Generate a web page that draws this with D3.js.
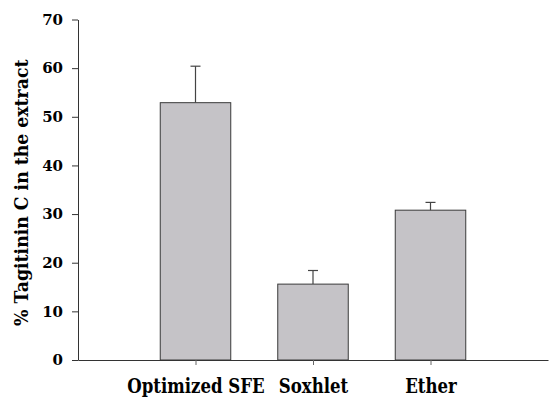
<!DOCTYPE html>
<html>
<head>
<meta charset="utf-8">
<title>Tagitinin C</title>
<script src="https://d3js.org/d3.v7.min.js"></script>
<style>
  body { margin: 0; background: #fff; }
</style>
</head>
<body>
<svg id="chart" width="549" height="398"></svg>
<script>
const categories = ["Optimized SFE", "Soxhlet", "Ether"];
const values = [52.9, 15.6, 30.8];
const errors = [7.5, 2.8, 1.6];
const yTicks = [0, 10, 20, 30, 40, 50, 60, 70];

// only serif face available here is DejaVu Serif, it runs wider than Times so squeeze it a bit
const serif = "DejaVu Serif";

const svg = d3.select("#chart");
const plotLeft = 78, plotRight = 548, plotTop = 19.5, plotBottom = 360;

const x = d3.scalePoint().domain(categories).range([plotLeft, plotRight]).padding(1);
const y = d3.scaleLinear().domain([0, 70]).range([plotBottom, plotTop]);
const barW = x.step() * 0.6;

const data = categories.map((c, i) => ({ name: c, value: values[i], err: errors[i] }));

// bars
svg.selectAll("rect.bar")
  .data(data)
  .enter().append("rect")
  .attr("class", "bar")
  .attr("x", d => x(d.name) - barW / 2)
  .attr("y", d => y(d.value))
  .attr("width", barW)
  .attr("height", d => y(0) - y(d.value))
  .attr("fill", "#c5c3c7")
  .attr("stroke", "#3a3a3a")
  .attr("stroke-width", 1);

// error bars (upper only)
svg.selectAll("line.err")
  .data(data)
  .enter().append("line")
  .attr("x1", d => x(d.name)).attr("x2", d => x(d.name))
  .attr("y1", d => y(d.value)).attr("y2", d => y(d.value + d.err))
  .attr("stroke", "#444").attr("stroke-width", 1.2);

svg.selectAll("line.cap")
  .data(data)
  .enter().append("line")
  .attr("x1", d => x(d.name) - 5).attr("x2", d => x(d.name) + 5)
  .attr("y1", d => y(d.value + d.err)).attr("y2", d => y(d.value + d.err))
  .attr("stroke", "#444").attr("stroke-width", 1.2);

// y axis
const yAxis = svg.append("g")
  .attr("transform", `translate(${plotLeft},0)`)
  .call(d3.axisLeft(y).tickValues(yTicks).tickSize(6).tickPadding(9).tickSizeOuter(0));
yAxis.select(".domain").attr("stroke", "#333");
yAxis.selectAll(".tick line").attr("stroke", "#333");
yAxis.selectAll(".tick text")
  .attr("font-family", serif).attr("font-weight", "bold").attr("font-size", 15)
  .attr("fill", "#000");

// x axis
const xAxis = svg.append("g")
  .attr("transform", `translate(0,${plotBottom})`)
  .call(d3.axisBottom(x).tickSize(5).tickPadding(14).tickSizeOuter(0));
xAxis.select(".domain").attr("stroke", "#333");
xAxis.selectAll(".tick line").attr("stroke", "#666");
xAxis.selectAll(".tick text")
  .attr("font-family", serif).attr("font-weight", "bold").attr("font-size", 19.5)
  .attr("fill", "#000")
  .attr("transform", "scale(0.85,1)");

// y label
svg.append("text")
  .attr("transform", `translate(27.5,${(plotTop + plotBottom) / 2 + 3}) rotate(-90) scale(0.91,1)`)
  .attr("text-anchor", "middle")
  .attr("font-family", serif).attr("font-weight", "bold").attr("font-size", 19)
  .text("% Tagitinin C in the extract");
</script>
</body>
</html>
